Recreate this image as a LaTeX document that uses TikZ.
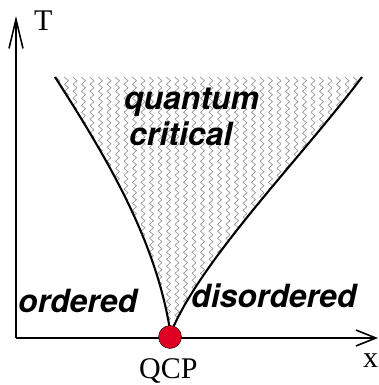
\documentclass[tikz,border=0pt]{standalone}
\usepackage{fontspec}
\setmainfont{Liberation Serif}
\newfontfamily\hvfont{TeX Gyre Heros}
\usetikzlibrary{arrows.meta,decorations.pathmorphing}
\definecolor{qcpred}{RGB}{221,0,35}
\begin{document}
\begin{tikzpicture}[x=1pt,y=-1pt,
  axis/.style={line width=1.8pt},
  curve/.style={line width=2.1pt},
  zz/.style={draw=black!45,line width=0.6pt,decorate,decoration={zigzag,segment length=7pt,amplitude=2pt}},
  region/.style={font=\hvfont\bfseries\itshape\fontsize{32}{32}\selectfont,anchor=base west,inner sep=0pt},
  axlabel/.style={font=\fontsize{30}{30}\selectfont,anchor=base west,inner sep=0pt}]
\useasboundingbox (0,0) rectangle (379,385);
% corner points of the critical fan
\coordinate (L0) at (55,77);
\coordinate (L1) at (170,330);
\coordinate (R0) at (362,77);
\coordinate (R1) at (172,330);
\coordinate (O) at (16,338);
\coordinate (Ty) at (16,16);
\coordinate (Tx) at (378,338);
% hatched region
\begin{scope}
  \clip (L0) .. controls (109,161) and (155.6,241) .. (L1) -- (R1) .. controls (204,256) and (302,157) .. (R0) -- cycle;
  \foreach \xx in {58,66.5,...,362}
    \draw[zz] (\xx,72) -- (\xx,336);
\end{scope}
% axes
\draw[axis,-{Straight Barb[length=29pt,width=14pt,line width=1.6pt]}] (O) -- (Ty);
\draw[axis,-{Straight Barb[length=20pt,width=16pt,line width=1.6pt]}] (O) -- (Tx);
% boundaries
\draw[curve] (L0) .. controls (109,161) and (155.6,241) .. (L1);
\draw[curve] (R0) .. controls (302,157) and (204,256) .. (R1);
% QCP
\node[circle,fill=qcpred,draw=black,line width=0.4pt,minimum size=23pt,inner sep=0pt] (qcp) at (170,337) {};
\node[axlabel] (qcplabel) at (139,378) {QCP};
\node[axlabel] (tlabel) at (34,31) {T};
\node[axlabel] (xlabel) at (363,367) {x};
% region labels
\node[region] (q1) at (124,110) {quantum};
\node[region] (q2) at (129,145) {critical};
\node[region] (ord) at (18,312) {ordered};
\node[region] (dis) at (191,307) {disordered};
\end{tikzpicture}
\end{document}
